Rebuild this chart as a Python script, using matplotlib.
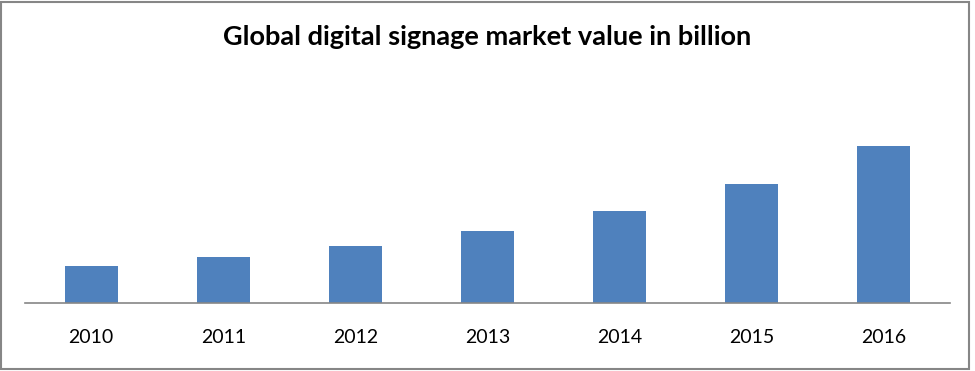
import matplotlib
matplotlib.use("Agg")
import matplotlib.pyplot as plt
from matplotlib.patches import Rectangle

years = ["2010", "2011", "2012", "2013", "2014", "2015", "2016"]
values = [3.75, 4.65, 5.75, 7.25, 9.25, 11.95, 15.75]
title = "Global digital signage market value in billion"

W, H = 975, 371
fig = plt.figure(figsize=(W / 100, H / 100), dpi=100)
ax = fig.add_axes([25 / W, 1 - 303 / H, 925 / W, 203 / H])

x = list(range(len(years)))
ax.bar(x, values, width=0.4, color="#4F81BD", zorder=2)
ax.set_xlim(-0.5, len(years) - 0.5)
ax.set_ylim(0, 20.3)
ax.set_xticks(x)
ax.set_xticklabels(years, fontfamily="Lato", fontsize=14, color="#000000")
ax.tick_params(axis="x", length=0, pad=19)
ax.set_yticks([])
for s in ["top", "right", "left"]:
    ax.spines[s].set_visible(False)
ax.spines["bottom"].set_color("#868686")
ax.spines["bottom"].set_linewidth(1.2)

fig.text(487 / W, 1 - 37 / H, title, ha="center", va="center",
         fontfamily="Lato", fontweight="bold", fontsize=19.5, color="#000000")

fig.patches.append(Rectangle((1 / W, 2 / H), 968 / W, 367 / H, transform=fig.transFigure,
                             fill=False, edgecolor="#868686", linewidth=1.5))

fig.savefig("out.png", dpi=100, facecolor="white")
